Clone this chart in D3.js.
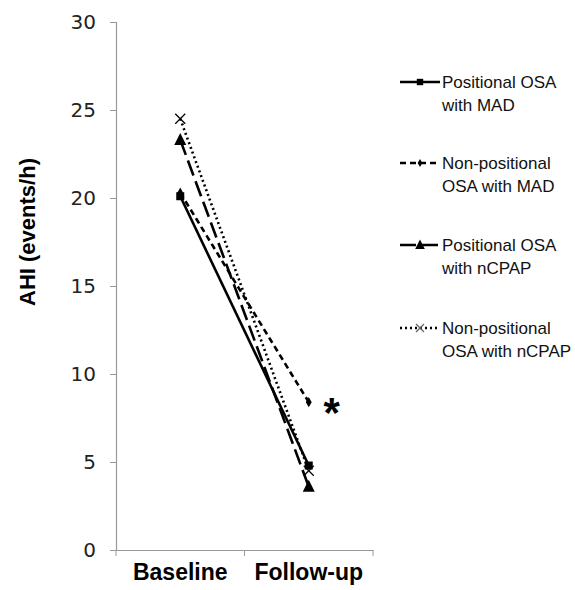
<!DOCTYPE html>
<html>
<head>
<meta charset="utf-8">
<script src="https://cdn.jsdelivr.net/npm/d3@7"></script>
<style>
  body { margin: 0; background: #fff; }
</style>
</head>
<body>
<svg id="chart" width="575" height="590"></svg>
<script>
const categories = ["Baseline", "Follow-up"];
const yTicks = [0, 5, 10, 15, 20, 25, 30];

const seriesNames = [
    ["Positional OSA", "with MAD"],
    ["Non-positional", "OSA with MAD"],
    ["Positional OSA", "with nCPAP"],
    ["Non-positional", "OSA with nCPAP"]
];
const positionalMAD = [20.1, 4.8];
const nonPositionalMAD = [20.3, 8.4];
const positionalCPAP = [23.3, 3.6];
const nonPositionalCPAP = [24.5, 4.5];
const seriesValues = [positionalMAD, nonPositionalMAD, positionalCPAP, nonPositionalCPAP];

const dashes = [null, "6,4", "16,6", "2,3"];
const markers = ["square", "diamond", "triangle", "cross"];

const arial = "'Liberation Sans', Arial, sans-serif";

const svg = d3.select("#chart"),
      margin = {top: 22, right: 202, bottom: 40, left: 116};
const width = +svg.attr("width"), height = +svg.attr("height");

const x = d3.scaleBand().domain(categories).range([margin.left, width - margin.right]);
const y = d3.scaleLinear().domain([0, 30]).range([height - margin.bottom, margin.top]);

// Y axis
const yAxis = svg.append("g")
    .attr("transform", `translate(${margin.left},0)`)
    .call(d3.axisLeft(y).tickValues(yTicks).tickSize(6).tickPadding(14));
yAxis.select(".domain").attr("stroke", "#999").attr("stroke-width", 1.2);
yAxis.selectAll(".tick line").attr("stroke", "#999");
yAxis.selectAll(".tick text").attr("font-size", 20).attr("fill", "#222")
    .attr("font-family", "'DejaVu Sans', sans-serif");

// X axis
const xAxis = svg.append("g")
    .attr("transform", `translate(0,${y(0)})`)
    .call(d3.axisBottom(x).tickValues([]).tickSizeOuter(0));
xAxis.select(".domain").attr("stroke", "#999").attr("stroke-width", 1.2);
[margin.left, margin.left + x.bandwidth(), margin.left + 2 * x.bandwidth()].forEach(px => {
    xAxis.append("line").attr("x1", px).attr("x2", px).attr("y1", 0).attr("y2", 6).attr("stroke", "#999");
});
categories.forEach(c => {
    svg.append("text")
        .attr("x", x(c) + x.bandwidth() / 2)
        .attr("y", height - 10)
        .attr("text-anchor", "middle")
        .attr("font-size", 23)
        .attr("font-weight", "bold")
        .attr("font-family", arial)
        .text(c);
});

// Y label
svg.append("text")
    .attr("transform", "rotate(-90)")
    .attr("x", -232)
    .attr("y", 35)
    .attr("text-anchor", "middle")
    .attr("font-size", 22)
    .attr("font-weight", "bold")
    .attr("font-family", arial)
    .text("AHI (events/h)");

function drawMarker(g, type, cx, cy, scale) {
    const s = scale || 1;
    if (type === "square") {
        g.append("rect").attr("x", cx - 4 * s).attr("y", cy - 4 * s)
            .attr("width", 8 * s).attr("height", 8 * s).attr("fill", "#000");
    } else if (type === "diamond") {
        g.append("path").attr("d", d3.symbol(d3.symbolDiamond, 30 * s * s)())
            .attr("transform", `translate(${cx},${cy})`).attr("fill", "#000");
    } else if (type === "triangle") {
        g.append("path").attr("d", `M${cx},${cy - 7 * s}L${cx + 6 * s},${cy + 5 * s}L${cx - 6 * s},${cy + 5 * s}Z`)
            .attr("fill", "#000");
    } else {
        const r = 5 * s;
        g.append("path").attr("d", `M${cx - r},${cy - r}L${cx + r},${cy + r}M${cx - r},${cy + r}L${cx + r},${cy - r}`)
            .attr("stroke", s < 1 ? "#666" : "#000").attr("stroke-width", 1.3).attr("fill", "none");
    }
}

const line = d3.line()
    .x((d, i) => x(categories[i]) + x.bandwidth() / 2)
    .y(d => y(d));

seriesValues.forEach((vals, k) => {
    const g = svg.append("g");
    g.append("path")
        .datum(vals)
        .attr("d", line)
        .attr("fill", "none")
        .attr("stroke", "#000")
        .attr("stroke-width", 2.6)
        .attr("stroke-dasharray", dashes[k]);
    vals.forEach((v, i) => drawMarker(g, markers[k], x(categories[i]) + x.bandwidth() / 2, y(v)));
});

// significance star
svg.append("text")
    .attr("x", x("Follow-up") + x.bandwidth() / 2 + 23)
    .attr("y", y(nonPositionalMAD[1]) + 25)
    .attr("text-anchor", "middle")
    .attr("font-size", 42)
    .attr("font-weight", "bold")
    .attr("font-family", arial)
    .text("*");

// legend
const legendY = [82, 163, 245, 328];
seriesNames.forEach((name, k) => {
    const g = svg.append("g").attr("transform", `translate(400,${legendY[k]})`);
    g.append("line").attr("x1", 0).attr("x2", 40).attr("y1", 0).attr("y2", 0)
        .attr("stroke", "#000").attr("stroke-width", 2.4)
        .attr("stroke-dasharray", dashes[k]);
    drawMarker(g, markers[k], 20, 0, 0.8);
    g.append("text").attr("x", 42).attr("y", 6)
        .attr("font-size", 17).attr("font-family", arial)
        .attr("fill", "#111").text(name[0]);
    g.append("text").attr("x", 42).attr("y", 29)
        .attr("font-size", 17).attr("font-family", arial)
        .attr("fill", "#111").text(name[1]);
});
</script>
</body>
</html>
